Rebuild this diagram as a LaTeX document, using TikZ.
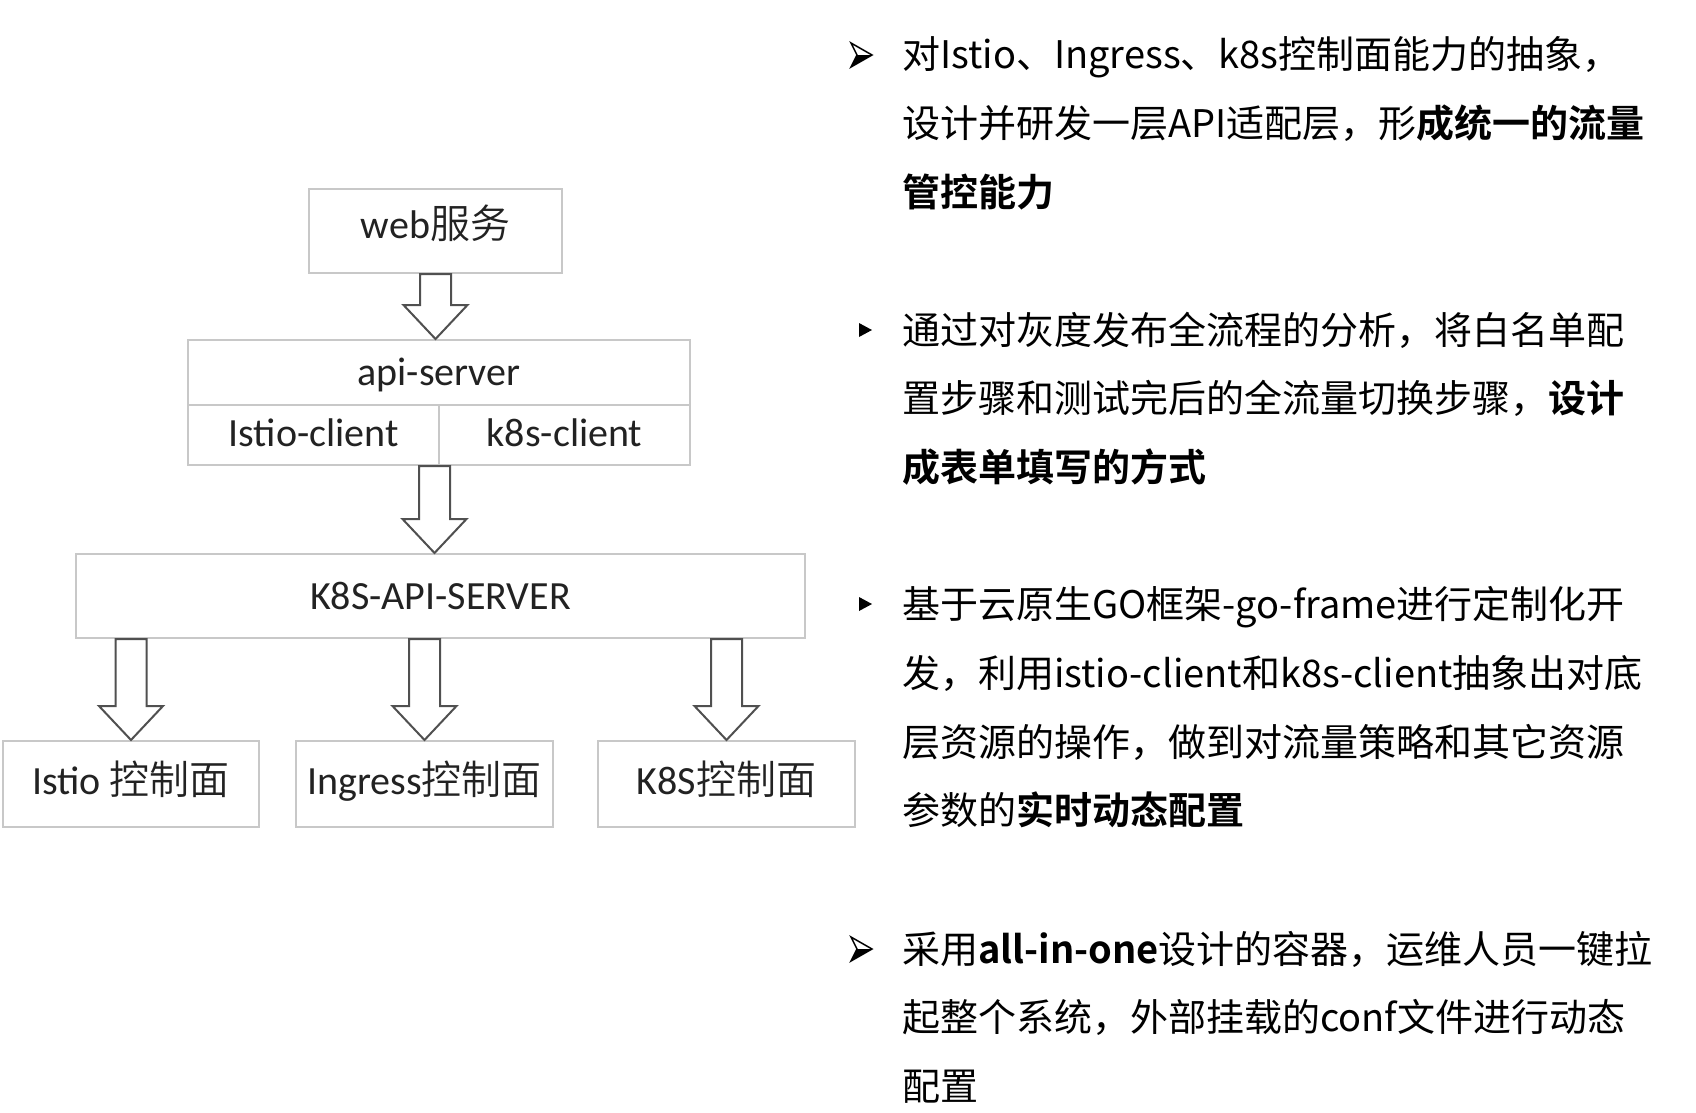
\documentclass[tikz,border=0pt]{standalone}
\usepackage{fontspec}
\usetikzlibrary{calc}
\newfontfamily\cjk{Noto Sans CJK SC}
\IfFontExistsTF{Noto Sans CJK SC Bold}{\newfontfamily\cjkb{Noto Sans CJK SC Bold}}{\newfontfamily\cjkb{Noto Sans CJK SC}[FakeBold=2.5]}
\IfFontExistsTF{Noto Sans CJK SC DemiLight}{\newfontfamily\cjkl{Noto Sans CJK SC DemiLight}}{\newfontfamily\cjkl{Noto Sans CJK SC}}
\newfontfamily\lat{Carlito}
\newcommand\difont{\lat\fontsize{40}{48}\selectfont}
\newcommand\rtfont{\cjk\fontsize{38}{46}\selectfont}
\definecolor{boxgray}{HTML}{C8C8C8}
\definecolor{arrowgray}{HTML}{505050}
\definecolor{txtgray}{HTML}{222222}
\newcommand\blockarrow[3]{\draw[barrow] let \p1=(#1), \p2=(#2), \p3=(#3) in
  (\x1-15.5pt,\y2) -- (\x1-15.5pt,\y3+34pt) -- (\x1-32pt,\y3+34pt) -- (\x1,\y3)
  -- (\x1+32pt,\y3+34pt) -- (\x1+15.5pt,\y3+34pt) -- (\x1+15.5pt,\y2) -- cycle;}
\tikzset{
  box/.style={draw=boxgray, line width=2pt, fill=white, inner sep=0pt,
    font=\difont, text height=34pt, text depth=8pt, text=txtgray},
  barrow/.style={draw=arrowgray, line width=2pt, fill=white, line join=miter},
  rt/.style={anchor=base west, inner sep=0pt, font=\rtfont, text=black},
}
\begin{document}
\begin{tikzpicture}[x=1pt,y=-1pt]
\useasboundingbox (0,0) rectangle (1696,1112);
\fill[white] (0,0) rectangle (1696,1112);
% boxes
\node[box, minimum width=253pt, minimum height=84pt, text depth=20pt] (web) at (435.5,231) {web{\cjkl 服务}};
\node[box, minimum width=502pt, minimum height=65pt] (apitop) at (439,372.5) {api-server};
\node[box, minimum width=251pt, minimum height=60pt, text depth=12pt] (istioc) at (313.5,435) {Istio-client};
\node[box, minimum width=251pt, minimum height=60pt, text depth=12pt] (k8sc) at (564.5,435) {k8s-client};
\node[box, minimum width=729pt, minimum height=84pt] (k8sapi) at (440.5,596) {K8S-API-SERVER};
\node[box, minimum width=256pt, minimum height=86pt, text depth=14pt] (b1) at (131,784) {Istio {\cjkl 控制面}};
\node[box, minimum width=257pt, minimum height=86pt, text depth=14pt] (b2) at (424.5,784) {Ingress{\cjkl 控制面}};
\node[box, minimum width=257pt, minimum height=86pt, text depth=14pt] (b3) at (726.5,784) {K8S{\cjkl 控制面}};
% arrows
\coordinate (a2x) at ($(apitop.south)+(-4.5,0)$);
\blockarrow{web.south}{web.south}{apitop.north}
\blockarrow{a2x}{istioc.south}{k8sapi.north}
\blockarrow{b1.north}{k8sapi.south}{b1.north}
\blockarrow{b2.north}{k8sapi.south}{b2.north}
\blockarrow{b3.north}{k8sapi.south}{b3.north}
% bullets
\fill[black] (857,55) -- (872,55) -- (851,67) -- cycle;
\draw[black, line width=1.5pt, line join=miter] (851,43) -- (872,55) -- (851,67) -- (857,55) -- cycle;
\fill[black] (859,323) -- (872,330) -- (859,337) -- cycle;
\fill[black] (859,597) -- (872,604) -- (859,611) -- cycle;
\fill[black] (857,949) -- (872,949) -- (851,961) -- cycle;
\draw[black, line width=1.5pt, line join=miter] (851,937) -- (872,949) -- (851,961) -- (857,949) -- cycle;
% right text
\node[rt] (t11) at (902,68) {对Istio、Ingress、k8s控制面能力的抽象，};
\node[rt] (t12) at (902,137) {设计并研发一层API适配层，形{\cjkb 成统一的流量}};
\node[rt] (t13) at (902,206) {{\cjkb 管控能力}};
\node[rt] (t21) at (902,344) {通过对灰度发布全流程的分析，将白名单配};
\node[rt] (t22) at (902,412) {置步骤和测试完后的全流量切换步骤，{\cjkb 设计}};
\node[rt] (t23) at (902,481) {{\cjkb 成表单填写的方式}};
\node[rt] (t31) at (902,618) {基于云原生GO框架-go-frame进行定制化开};
\node[rt] (t32) at (902,687) {发，利用istio-client和k8s-client抽象出对底};
\node[rt] (t33) at (902,756) {层资源的操作，做到对流量策略和其它资源};
\node[rt] (t34) at (902,824) {参数的{\cjkb 实时动态配置}};
\node[rt] (t41) at (902,963) {采用{\cjkb all-in-one}设计的容器，运维人员一键拉};
\node[rt] (t42) at (902,1031) {起整个系统，外部挂载的conf文件进行动态};
\node[rt] (t43) at (902,1100) {配置};
\end{tikzpicture}
\end{document}
